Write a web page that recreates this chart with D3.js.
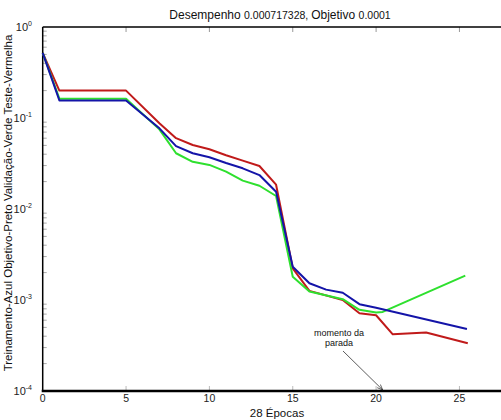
<!DOCTYPE html>
<html><head><meta charset="utf-8">
<script src="https://cdn.jsdelivr.net/npm/d3@7"></script>
<style>body{margin:0;background:#fff}svg{display:block}text{font-family:"Liberation Sans",Arial,sans-serif}</style>
</head><body><svg id="c" width="501" height="420"></svg>
<script>
const title = "Desempenho";
const perf = "0.000717328";
const goalLabel = "Objetivo";
const goal = "0.0001";
const xLabel = "28 Épocas";
const yLabel = "Treinamento-Azul Objetivo-Preto Validação-Verde Teste-Vermelha";
const xTicks = [0, 5, 10, 15, 20, 25];
const yTickExps = [0, -1, -2, -3, -4];
const annotation = ["momento da", "parada"];
const stopEpoch = 20.4;

// training (blue)
const trainX = [0, 1, 5, 7, 8, 9, 10, 11, 12, 13, 14, 15, 16, 17, 18, 19, 20, 25.45];
const trainY = [0.52, 0.156, 0.156, 0.077, 0.049, 0.041, 0.037, 0.032, 0.028, 0.0236, 0.0155, 0.00232, 0.00153, 0.0013, 0.0012, 0.0009, 0.00082, 0.00048];
// validation (green)
const valX = [0, 1, 5, 7, 8, 9, 10, 11, 12, 13, 14, 15, 16, 18, 19, 20, 20.4, 25.35];
const valY = [0.52, 0.163, 0.163, 0.075, 0.041, 0.033, 0.0305, 0.0257, 0.0205, 0.018, 0.0139, 0.0018, 0.00124, 0.00102, 0.00078, 0.00073, 0.00074, 0.00185];
// test (red)
const testX = [0, 1, 5, 7, 8, 9, 10, 11, 12, 13, 14, 15, 16, 18, 19, 20, 21, 23, 25.5];
const testY = [0.52, 0.2, 0.2, 0.0875, 0.06, 0.0505, 0.0453, 0.039, 0.034, 0.0297, 0.0185, 0.00223, 0.00126, 0.001, 0.000714, 0.00068, 0.00042, 0.00044, 0.000334];

const svg = d3.select("#c");
const L = 42.7, T = 27, B = 391;
const x = d3.scaleLinear().domain([0, 28]).range([L, L + 28 * 16.67]);
const y = d3.scaleLog().domain([1e-4, 1]).range([B, T]);

// minor log ticks (inside)
const minor = [];
for (let e = -4; e < 0; e++) for (let m = 2; m <= 9; m++) minor.push(m * Math.pow(10, e));
svg.append("g").selectAll("line").data(minor).join("line")
  .attr("x1", L).attr("x2", L + 4).attr("y1", d => y(d)).attr("y2", d => y(d))
  .attr("stroke", "#aaa").attr("stroke-width", 1);
// x ticks inside top & bottom
const gx = svg.append("g");
gx.selectAll("line.b").data(xTicks.slice(1)).join("line").attr("class", "b")
  .attr("x1", d => x(d)).attr("x2", d => x(d)).attr("y1", B).attr("y2", B - 5)
  .attr("stroke", "#bbb");
gx.selectAll("line.t").data(xTicks.slice(1)).join("line").attr("class", "t")
  .attr("x1", d => x(d)).attr("x2", d => x(d)).attr("y1", T).attr("y2", T + 5)
  .attr("stroke", "#999");

// axes frame
svg.append("line").attr("x1", L).attr("x2", 501).attr("y1", T).attr("y2", T).attr("stroke", "#000").attr("stroke-width", 1.5);
svg.append("line").attr("x1", L).attr("x2", L).attr("y1", T).attr("y2", B).attr("stroke", "#000").attr("stroke-width", 1.5);
svg.append("line").attr("x1", L - 1).attr("x2", 501).attr("y1", B).attr("y2", B).attr("stroke", "#000").attr("stroke-width", 2.5);

// x tick labels
svg.append("g").selectAll("text").data(xTicks).join("text")
  .attr("x", d => x(d)).attr("y", 402).attr("text-anchor", "middle")
  .attr("font-size", 10.5).attr("fill", "#222").text(d => d);
// y tick labels
const yt = svg.append("g").selectAll("text").data(yTickExps).join("text")
  .attr("x", 32).attr("y", d => y(Math.pow(10, d)) + 4).attr("text-anchor", "end")
  .attr("font-size", 11).attr("fill", "#222");
yt.append("tspan").text("10");
yt.append("tspan").attr("font-size", 7).attr("dy", -5).text(d => d);

// lines
const line = d3.line().x(d => x(d[0])).y(d => y(d[1]));
const series = [
  {xs: testX, ys: testY, c: "#c01a1a"},
  {xs: valX, ys: valY, c: "#2ee02e"},
  {xs: trainX, ys: trainY, c: "#1414a8"}
];
series.forEach(s => {
  svg.append("path").datum(d3.zip(s.xs, s.ys)).attr("d", line)
    .attr("fill", "none").attr("stroke", s.c).attr("stroke-width", 2).attr("stroke-linejoin", "round");
});

// annotation
svg.append("text").attr("x", 339).attr("y", 336).attr("text-anchor", "middle").attr("font-size", 9).attr("fill", "#111").text(annotation[0]);
svg.append("text").attr("x", 339).attr("y", 346).attr("text-anchor", "middle").attr("font-size", 9).attr("fill", "#111").text(annotation[1]);
svg.append("defs").append("marker").attr("id", "ah").attr("viewBox", "0 0 10 10").attr("refX", 10).attr("refY", 5)
  .attr("markerWidth", 7).attr("markerHeight", 7).attr("orient", "auto")
  .append("path").attr("d", "M0,1 L10,5 L0,9").attr("fill", "none").attr("stroke", "#222").attr("stroke-width", 1.2);
svg.append("line").attr("x1", 343).attr("y1", 351).attr("x2", x(stopEpoch)).attr("y2", B - 1)
  .attr("stroke", "#333").attr("stroke-width", 0.8).attr("marker-end", "url(#ah)");

// title
const tt = svg.append("text").attr("x", 280).attr("y", 19).attr("text-anchor", "middle").attr("fill", "#111");
tt.append("tspan").attr("font-size", 12).text(title + " ");
tt.append("tspan").attr("font-size", 10.5).text(perf + ", ");
tt.append("tspan").attr("font-size", 12).text(goalLabel + "  ");
tt.append("tspan").attr("font-size", 10.5).text(goal);

// axis labels
svg.append("text").attr("x", 277).attr("y", 417).attr("text-anchor", "middle").attr("font-size", 11.5).attr("fill", "#111").text(xLabel);
svg.append("text").attr("transform", "translate(12,203) rotate(-90)").attr("text-anchor", "middle")
  .attr("font-size", 11.5).attr("fill", "#111").text(yLabel);
</script></body></html>
